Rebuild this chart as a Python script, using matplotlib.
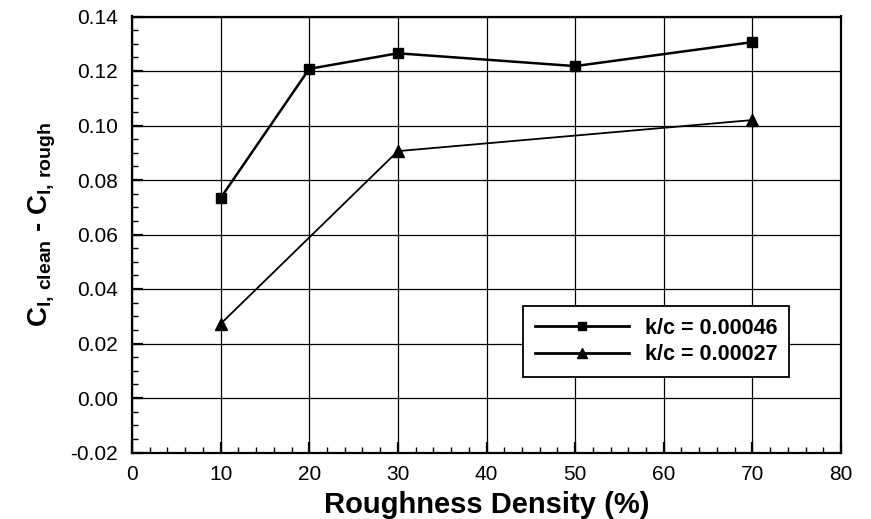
import matplotlib
matplotlib.use("Agg")
import matplotlib.pyplot as plt
from matplotlib.ticker import MultipleLocator, FormatStrFormatter
from matplotlib.lines import Line2D

plt.rcParams['font.family'] = ['Liberation Sans', 'DejaVu Sans']
plt.rcParams['mathtext.fontset'] = 'custom'
plt.rcParams['mathtext.rm'] = 'Liberation Sans'
plt.rcParams['mathtext.bf'] = 'Liberation Sans:bold'
plt.rcParams['mathtext.it'] = 'Liberation Sans:italic'

density_sq = [10, 20, 30, 50, 70]
dcl_sq = [0.0734, 0.1208, 0.1265, 0.1218, 0.1306]
density_tri = [10, 30, 70]
dcl_tri = [0.0272, 0.0906, 0.1020]
labels = ["k/c = 0.00046", "k/c = 0.00027"]

W, H = 871, 519
fig = plt.figure(figsize=(W / 100, H / 100), dpi=100)
L, R, T, B = 132, 841, 16.5, 452.5
ax = fig.add_axes([L / W, 1 - B / H, (R - L) / W, (B - T) / H])

ax.plot(density_sq, dcl_sq, color='black', lw=1.8, marker='s', ms=7)
ax.plot(density_tri, dcl_tri, color='black', lw=1.3, marker='^', ms=8.5)

ax.set_xlim(0, 80)
ax.set_ylim(-0.02, 0.14)
ax.xaxis.set_major_locator(MultipleLocator(10))
ax.xaxis.set_minor_locator(MultipleLocator(2))
ax.yaxis.set_major_locator(MultipleLocator(0.02))
ax.yaxis.set_minor_locator(MultipleLocator(0.005))
ax.yaxis.set_major_formatter(FormatStrFormatter('%.2f'))
ax.grid(True, which='major', color='black', lw=0.9)
ax.tick_params(which='major', direction='in', length=8, width=1.6, labelsize=15)
ax.tick_params(axis='y', which='major', pad=10)
ax.tick_params(axis='x', which='major', pad=9)
ax.tick_params(which='minor', direction='in', length=4, width=1)
for s in ax.spines.values():
    s.set_linewidth(1.6)

ax.set_xlabel('Roughness Density (%)', fontsize=21, fontweight='bold', labelpad=5)
fig.text(42 / W, 1 - 224 / H,
         r'$\mathbf{C}_{\mathbf{l,\,clean}}$ - $\mathbf{C}_{\mathbf{l,\,rough}}$',
         rotation=90, ha='center', va='center', fontsize=20, fontweight='bold')

handles = [Line2D([], [], color='black', lw=2, marker='s', ms=5.5),
           Line2D([], [], color='black', lw=2, marker='^', ms=7)]
leg = ax.legend(handles, labels, loc='lower right',
                bbox_to_anchor=((789 - L) / (R - L), (B - 377) / (B - T)),
                borderaxespad=0, prop={'weight': 'bold', 'size': 15.5},
                frameon=True, fancybox=False, edgecolor='black', framealpha=1,
                handlelength=4.4, handletextpad=0.7,
                borderpad=0.55, labelspacing=0.25)
leg.get_frame().set_linewidth(1.3)

fig.savefig('out.png', dpi=100)
